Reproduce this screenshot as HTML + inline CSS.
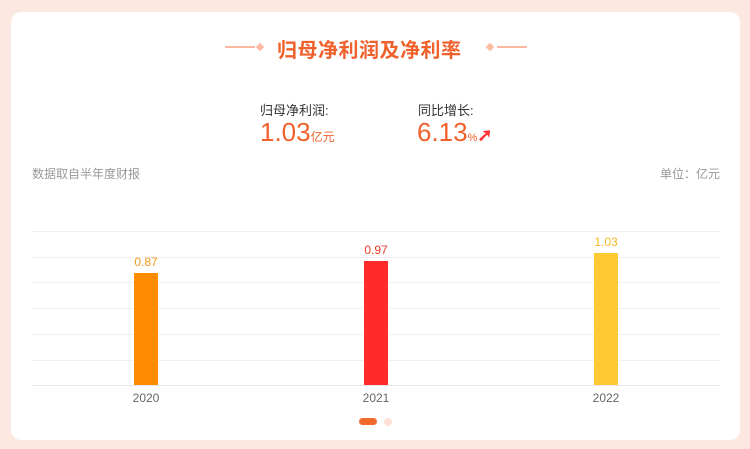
<!DOCTYPE html>
<html><head><meta charset="utf-8"><style>
*{margin:0;padding:0;box-sizing:border-box}
body{width:750px;height:449px;background:#fde8e1;position:relative;overflow:hidden;font-family:"Liberation Sans","Noto Sans CJK SC",sans-serif}
.card{position:absolute;left:11px;top:12px;width:729px;height:428px;background:#fff;border-radius:10px}
.a{position:absolute;white-space:nowrap}
.grid{position:absolute;left:32px;width:688px;height:1px;background:#f0f0f0}
.bar{position:absolute;width:24px}
.lbl{position:absolute;width:60px;text-align:center;font-size:12px}
.yr{position:absolute;width:60px;text-align:center;font-size:12px;color:#666;top:391px}
</style></head><body>
<div class="card"></div>
<div class="a" style="left:225px;top:46px;width:30px;height:2px;background:#fbb9a0"></div>
<div class="a" style="left:257px;top:44px;width:6px;height:6px;background:#fbb9a0;transform:rotate(45deg)"></div>
<div class="a" style="left:487px;top:44px;width:6px;height:6px;background:#fbb9a0;transform:rotate(45deg)"></div>
<div class="a" style="left:497px;top:46px;width:30px;height:2px;background:#fbb9a0"></div>
<div class="a" style="left:277px;top:34px;font-size:20px;font-weight:bold;color:#f0612b;letter-spacing:0.5px">归母净利润及净利率</div>
<div class="a" style="left:260px;top:100px;font-size:13px;color:#333">归母净利润:</div>
<div class="a" style="left:260px;top:117px;font-size:26px;color:#f0612b">1.03<span style="font-size:12px">亿元</span></div>
<div class="a" style="left:418px;top:100px;font-size:13px;color:#333">同比增长:</div>
<div class="a" style="left:417px;top:117px;font-size:26px;color:#f0612b">6.13<span style="font-size:11px">%</span><span style="color:#f33;font-size:18px;font-weight:bold">➚</span></div>
<div class="a" style="left:32px;top:165px;font-size:12px;color:#999">数据取自半年度财报</div>
<div class="a" style="left:660px;top:165px;font-size:12px;color:#999">单位：亿元</div>
<div class="grid" style="top:231px"></div><div class="grid" style="top:257px"></div><div class="grid" style="top:282px"></div><div class="grid" style="top:308px"></div><div class="grid" style="top:334px"></div><div class="grid" style="top:360px"></div><div class="grid" style="top:385px;background:#e8e8e8"></div>
<div class="bar" style="left:134px;top:273px;height:112px;background:#ff8c00"></div>
<div class="bar" style="left:364px;top:261px;height:124px;background:#ff2a2a"></div>
<div class="bar" style="left:594px;top:253px;height:132px;background:#ffc933"></div>
<div class="lbl" style="left:116px;top:255px;color:#f39a1e">0.87</div>
<div class="lbl" style="left:346px;top:243px;color:#f03a2a">0.97</div>
<div class="lbl" style="left:576px;top:235px;color:#f5b820">1.03</div>
<div class="yr" style="left:116px">2020</div><div class="yr" style="left:346px">2021</div><div class="yr" style="left:576px">2022</div>
<div class="a" style="left:359px;top:418px;width:18px;height:7px;border-radius:4px;background:#f26a2c"></div>
<div class="a" style="left:384px;top:418px;width:8px;height:8px;border-radius:4px;background:#fde0d6"></div>
</body></html>
